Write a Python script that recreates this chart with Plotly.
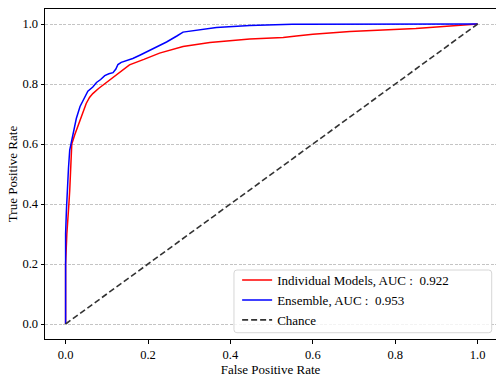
import plotly.graph_objects as go

# ROC curve points (false positive rate, true positive rate)
ind_fpr = [0, 0.0, 0.003, 0.005, 0.008, 0.01, 0.015, 0.022, 0.03, 0.04, 0.05, 0.058,
           0.066, 0.08, 0.097, 0.11, 0.125, 0.14, 0.155, 0.19, 0.228, 0.285, 0.35,
           0.447, 0.528, 0.56, 0.6, 0.69, 0.763, 0.85, 1.0]
ind_tpr = [0, 0.2, 0.3, 0.33, 0.4, 0.445, 0.6, 0.63, 0.66, 0.7, 0.735, 0.755,
           0.768, 0.785, 0.803, 0.815, 0.831, 0.847, 0.864, 0.882, 0.903, 0.925, 0.938,
           0.95, 0.955, 0.96, 0.966, 0.975, 0.979, 0.985, 1.0]

ens_fpr = [0, 0.0, 0.002, 0.004, 0.007, 0.01, 0.018, 0.026, 0.035, 0.044, 0.054, 0.066,
           0.075, 0.085, 0.095, 0.105, 0.115, 0.122, 0.127, 0.135, 0.163, 0.18, 0.204,
           0.228, 0.245, 0.27, 0.285, 0.366, 0.447, 0.55, 0.7, 1.0]
ens_tpr = [0, 0.3, 0.38, 0.445, 0.52, 0.58, 0.635, 0.685, 0.725, 0.75, 0.776, 0.79,
           0.805, 0.815, 0.828, 0.834, 0.838, 0.85, 0.865, 0.872, 0.885, 0.896, 0.912,
           0.928, 0.94, 0.96, 0.973, 0.988, 0.995, 0.999, 1.0, 1.0]

chance_x = [0, 1]
chance_y = [0, 1]

auc_individual = 0.922
auc_ensemble = 0.953

FONT = "Liberation Serif"
NB = "\u00a0"

fig = go.Figure()
fig.add_trace(go.Scatter(x=ind_fpr, y=ind_tpr, mode="lines",
                         line=dict(color="#ff0000", width=1.5),
                         name=f"Individual Models, AUC{NB}:{NB}{NB}{auc_individual:.3f}"))
fig.add_trace(go.Scatter(x=ens_fpr, y=ens_tpr, mode="lines",
                         line=dict(color="#0000ff", width=1.5),
                         name=f"Ensemble, AUC{NB}:{NB}{NB}{auc_ensemble:.3f}"))
fig.add_trace(go.Scatter(x=chance_x, y=chance_y, mode="lines",
                         line=dict(color="#333333", width=1.6, dash="6px,3px"),
                         name="Chance"))

axis_common = dict(
    showline=True, linecolor="black", linewidth=1,
    ticks="outside", ticklen=3.5, tickwidth=0.8, tickcolor="black",
    tickfont=dict(family=FONT, size=12.5, color="black"),
    zeroline=False,
    tickvals=[0, 0.2, 0.4, 0.6, 0.8, 1.0],
    ticktext=["0.0", "0.2", "0.4", "0.6", "0.8", "1.0"],
)

# legend frame with rounded corners (paper coordinates)
lx0, lx1, ly0, ly1 = 0.419, 0.9905, 0.019, 0.209
rx, ry = 0.0066, 0.009
frame_path = (f"M {lx0 + rx},{ly0} L {lx1 - rx},{ly0} Q {lx1},{ly0} {lx1},{ly0 + ry} "
              f"L {lx1},{ly1 - ry} Q {lx1},{ly1} {lx1 - rx},{ly1} "
              f"L {lx0 + rx},{ly1} Q {lx0},{ly1} {lx0},{ly1 - ry} "
              f"L {lx0},{ly0 + ry} Q {lx0},{ly0} {lx0 + rx},{ly0} Z")

fig.update_layout(
    width=496, height=377,
    margin=dict(l=45, r=0, t=9, b=38),
    paper_bgcolor="white", plot_bgcolor="white",
    font=dict(family=FONT, size=12.5, color="black"),
    xaxis=dict(axis_common, range=[-0.05, 1.0445], mirror=True, showgrid=False,
               title=dict(text="False Positive Rate", font=dict(family=FONT, size=13),
                          standoff=5)),
    yaxis=dict(axis_common, range=[-0.05, 1.05], mirror=False, showgrid=True,
               gridcolor="#c4c4c4", gridwidth=0.8, griddash="3px,1.5px",
               title=dict(text="True Positive Rate", font=dict(family=FONT, size=13),
                          standoff=1)),
    shapes=[dict(type="path", path=frame_path, xref="paper", yref="paper",
                 fillcolor="rgba(255,255,255,0.8)", line=dict(color="#d6d6d6", width=1),
                 layer="above")],
    legend=dict(x=0.426, y=0.224, xanchor="left", yanchor="top",
                bgcolor="rgba(0,0,0,0)", borderwidth=0,
                font=dict(family=FONT, size=13, color="black"),
                itemwidth=30, tracegroupgap=0),
    showlegend=True,
)

fig.write_html("out.html")
